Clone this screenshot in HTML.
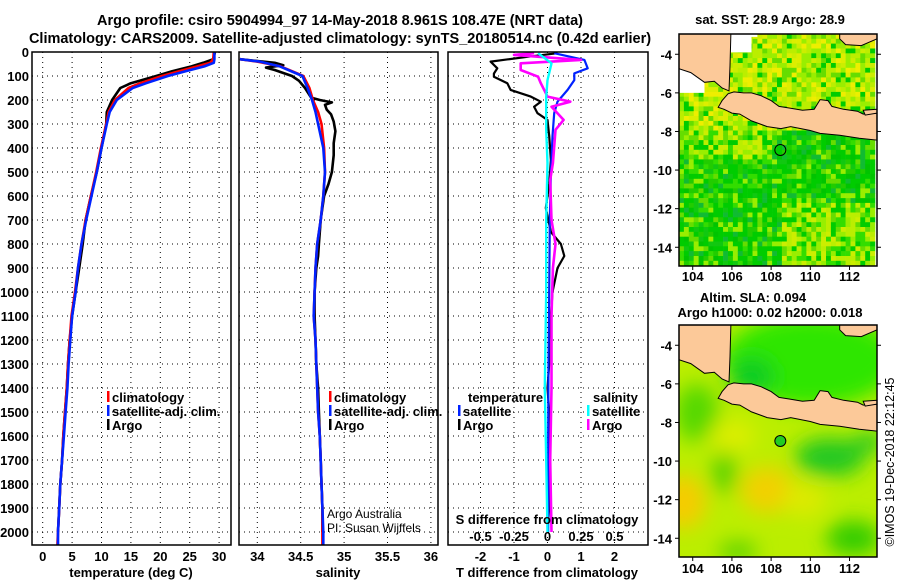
<!DOCTYPE html>
<html><head><meta charset="utf-8">
<style>
html,body{margin:0;padding:0;background:#fff;}
svg{display:block;font-family:"Liberation Sans",Arial,sans-serif;}
.b{font-weight:bold;}
</style></head>
<body>
<svg id="chart" width="900" height="580" viewBox="0 0 900 580" xmlns="http://www.w3.org/2000/svg">
<defs>
<clipPath id="c1"><rect x="32" y="52" width="199" height="493"/></clipPath>
<clipPath id="c2"><rect x="239" y="52" width="199" height="493"/></clipPath>
<clipPath id="c3"><rect x="448" y="52" width="200" height="493"/></clipPath>
<clipPath id="cm1"><rect x="679" y="34" width="198" height="232"/></clipPath>
<clipPath id="cm2"><rect x="679" y="325" width="198" height="232"/></clipPath>
<filter id="blur" x="-20%" y="-20%" width="140%" height="140%"><feGaussianBlur stdDeviation="10"/></filter>
</defs>
<text x="340" y="25" text-anchor="middle" class="b" font-size="14.5">Argo profile: csiro 5904994_97 14-May-2018 8.961S 108.47E (NRT data)</text>
<text x="340" y="43" text-anchor="middle" class="b" font-size="14.5">Climatology: CARS2009. Satellite-adjusted climatology: synTS_20180514.nc (0.42d earlier)</text>
<g id="g"></g>
</svg>
<script>
// ---------- data ----------
const depthTicks=[0,100,200,300,400,500,600,700,800,900,1000,1100,1200,1300,1400,1500,1600,1700,1800,1900,2000];
const tempTicks=[0,5,10,15,20,25,30];
const salTicks=[34,34.5,35,35.5,36];
const tdiffTicks=[-2,-1,0,1,2];
const sdiffTicks=[-0.5,-0.25,0,0.25,0.5];
const lonTicks=[104,106,108,110,112];
const latTicks=[-4,-6,-8,-10,-12,-14];

const tDepth=[0,30,45,60,80,100,130,150,200,250,300,400,500,600,700,800,900,1000,1100,1200,1300,1400,1500,1600,1700,1800,1900,2000,2055];
const tClim=[29.1,29.0,28.5,26.3,23.2,20.3,16.6,14.6,12.3,11.2,10.8,9.9,9.1,8.2,7.3,6.6,6.0,5.5,4.9,4.6,4.3,4.1,3.8,3.5,3.3,3.0,2.8,2.6,2.5];
const tSat=[29.2,29.2,29.1,27.5,24.3,21.3,17.6,15.3,12.6,11.4,10.9,10.0,9.2,8.3,7.4,6.6,6.0,5.6,5.0,4.7,4.4,4.2,3.9,3.6,3.3,3.0,2.8,2.6,2.6];
const tArgoDepth=[0,30,45,60,80,100,130,150,200,250,300,400,500,600,700,800,900,1000,1100,1200,1300,1400,1500,1600,1700,1800,1900,2000];
const tArgo=[29.3,29.0,27.3,25.3,22.0,19.3,15.0,13.2,11.8,10.9,10.8,10.0,9.2,8.2,7.3,6.8,6.2,5.6,5.0,4.6,4.3,4.1,3.8,3.5,3.3,3.0,2.8,2.6];

const sDepth=[30,40,60,100,150,200,250,300,400,500,600,700,800,900,1000,1100,1200,1300,1400,1500,1600,1700,1800,1900,2000,2055];
const sClim=[33.8,34.0,34.27,34.53,34.6,34.64,34.7,34.74,34.77,34.78,34.76,34.73,34.69,34.67,34.66,34.65,34.67,34.68,34.69,34.7,34.72,34.73,34.74,34.75,34.75,34.75];
const sSat=[33.8,34.03,34.26,34.52,34.58,34.63,34.67,34.7,34.76,34.78,34.76,34.73,34.69,34.67,34.66,34.65,34.67,34.68,34.69,34.7,34.72,34.73,34.74,34.75,34.76,34.76];
const sArgoDepth=[30,45,55,65,75,100,120,150,190,200,210,220,240,260,290,330,380,430,500,550,600,700,800,850,900,1000,1100,1200,1300,1400,1500,1600,1700,1800,1900,2000];
const sArgo=[33.8,34.2,34.3,34.1,34.2,34.4,34.48,34.55,34.62,34.72,34.86,34.78,34.8,34.85,34.88,34.9,34.88,34.88,34.86,34.82,34.77,34.73,34.71,34.7,34.68,34.66,34.66,34.67,34.68,34.7,34.71,34.72,34.73,34.74,34.75,34.75];

const dDepth=[5,20,40,68,90,103,130,158,186,207,228,255,283,350,450,550,650,750,800,850,900,1000,1100,1200,1300,1400,1500,1600,1700,1800,1900,1980];
const dTArgo=[0.3,-0.6,-1.7,-1.5,-1.6,-1.6,-1.2,-1.1,-0.5,-0.2,-0.4,-0.3,0.0,0.05,0.1,0.05,-0.05,0.1,0.4,0.5,0.3,0.15,0.1,0.05,0.05,0.0,0.05,0.05,0.03,0.05,0.05,0.0];
const dSDepth=[5,12,33,47,75,103,130,186,207,228,283,324,394,463,533,700,800,900,1100,1400,1700,2000];
const dSArgo=[-0.1,-0.25,0.25,-0.2,-0.2,-0.07,-0.05,0.0,0.17,0.03,0.12,0.06,0.05,0.04,0.02,0.03,0.06,0.04,0.03,0.03,0.02,0.03];
const dTSatDepth=[5,33,68,89,117,158,207,255,350,500,700,1000,1300,1600,2000];
const dTSat=[0.2,1.1,1.2,0.8,0.8,0.6,0.3,0.2,0.15,0.1,0.07,0.05,0.03,0.02,0.02];
const dSSatDepth=[5,47,117,186,324,463,700,1000,1400,1700,2000];
const dSSat=[-0.07,0.03,0.0,-0.01,-0.01,0.0,-0.01,-0.01,-0.02,-0.01,0.0];

const mapLon=[108.47];
const mapLat=[-8.961];

// ---------- helpers ----------
const NS='http://www.w3.org/2000/svg';
const G=document.getElementById('g');
function el(tag,attrs,parent){const e=document.createElementNS(NS,tag);for(const k in attrs)e.setAttribute(k,attrs[k]);(parent||G).appendChild(e);return e;}
const yD=d=>52+d*0.24;
const xT=t=>42.7+t*5.88;
const xS=s=>257.3+(s-34)*86.8;
const xDT=t=>547.5+t*33.5;
const xDS=s=>547.5+s*134;
const mx=lon=>679+(lon-103.3)*19.6;
const my1=lat=>34+(-2.95-lat)*19.3;
const my2=lat=>325+(-2.95-lat)*19.3;

function grid(x0,x1,xs,clip){
  const g=el('g',{'clip-path':'url(#'+clip+')'});
  
  
  depthTicks.forEach(d=>el('line',{x1:x0,x2:x1,y1:yD(d),y2:yD(d),stroke:'#000','stroke-width':1,'stroke-dasharray':'1,4'},g));
  xs.forEach(x=>el('line',{x1:x,x2:x,y1:52,y2:545,stroke:'#000','stroke-width':1,'stroke-dasharray':'1,4'},g));
}
function line(xs,ds,fx,color,clip,name,w){
  const pts=xs.map((v,i)=>fx(v).toFixed(1)+','+yD(ds[i]).toFixed(1)).join(' ');
  const p=el('polyline',{points:pts,fill:'none',stroke:color,'stroke-width':w||2.6,'clip-path':'url(#'+clip+')','stroke-linejoin':'round'});
  
  
}
function frame(x,y,w,h,name){
  const r=el('rect',{x:x,y:y,width:w,height:h,fill:'none',stroke:'#000','stroke-width':1.5});
  
  
}
function txt(x,y,s,attrs,name){
  const t=el('text',Object.assign({x:x,y:y},attrs||{}));
  t.textContent=s;
  
  
  return t;
}

// ---------- depth axis ----------
depthTicks.forEach(d=>{
  txt(29,yD(d)+5,String(d),{'text-anchor':'end','font-size':13,'font-weight':'bold'},'depth-tick-label');
});

// ---------- panel 1 temperature ----------
grid(32,231,tempTicks.map(xT),'c1');
line(tArgo,tArgoDepth,xT,'#000','c1','temperature-argo-line');
line(tClim,tDepth,xT,'#ff0000','c1','temperature-climatology-line');
line(tSat,tDepth,xT,'#0022ff','c1','temperature-satellite-line');
frame(32,52,199,493,'temperature-panel-frame');
tempTicks.forEach(t=>txt(xT(t),561,String(t),{'text-anchor':'middle','font-size':13,'font-weight':'bold'},'temperature-tick-label'));
txt(131,577,'temperature (deg C)',{'text-anchor':'middle','font-size':13,'font-weight':'bold'},'temperature-axis-title');

function legend(x,y,items,name){
  items.forEach((it,i)=>{
    const r=el('rect',{x:x,y:y+i*14-11,width:2.5,height:11,fill:it[1]});
    
    
    txt(x+5,y+i*14,it[0],{'font-size':13,'font-weight':'bold'},name+'-entry');
  });
}
legend(107,402,[['climatology','#ff0000'],['satellite-adj. clim.','#0022ff'],['Argo','#000']],'temperature-legend');

// ---------- panel 2 salinity ----------
grid(239,438,salTicks.map(xS),'c2');
line(sArgo,sArgoDepth,xS,'#000','c2','salinity-argo-line');
line(sClim,sDepth,xS,'#ff0000','c2','salinity-climatology-line');
line(sSat,sDepth,xS,'#0022ff','c2','salinity-satellite-line');
frame(239,52,199,493,'salinity-panel-frame');
salTicks.forEach(s=>txt(xS(s),561,String(s),{'text-anchor':'middle','font-size':13,'font-weight':'bold'},'salinity-tick-label'));
txt(338,577,'salinity',{'text-anchor':'middle','font-size':13,'font-weight':'bold'},'salinity-axis-title');
legend(329,402,[['climatology','#ff0000'],['satellite-adj. clim.','#0022ff'],['Argo','#000']],'salinity-legend');
txt(327,518,'Argo Australia',{'font-size':12},'credit-argo-australia');
txt(327,532,'PI: Susan Wijffels',{'font-size':12},'credit-pi');

// ---------- panel 3 differences ----------
grid(448,648,tdiffTicks.map(xDT),'c3');
line(dTArgo,dDepth,xDT,'#000','c3','tdiff-argo-line',2.2);
line(dTSat,dTSatDepth,xDT,'#0022ff','c3','tdiff-satellite-line',2.2);
line(dSArgo,dSDepth,xDS,'#ff00ff','c3','sdiff-argo-line',2.6);
line(dSSat,dSSatDepth,xDS,'#00ffff','c3','sdiff-satellite-line',2.4);
frame(448,52,200,493,'difference-panel-frame');
tdiffTicks.forEach(t=>txt(xDT(t),561,String(t),{'text-anchor':'middle','font-size':13,'font-weight':'bold'},'tdiff-tick-label'));
sdiffTicks.forEach(s=>txt(xDS(s),541,String(s),{'text-anchor':'middle','font-size':13,'font-weight':'bold'},'sdiff-tick-label'));
txt(547,524,'S difference from climatology',{'text-anchor':'middle','font-size':13,'font-weight':'bold'},'sdiff-axis-title');
txt(547,577,'T difference from climatology',{'text-anchor':'middle','font-size':13,'font-weight':'bold'},'tdiff-axis-title');
txt(468,402,'temperature',{'font-size':13,'font-weight':'bold'},'tdiff-legend-title');
legend(458,416,[['satellite','#0022ff'],['Argo','#000']],'tdiff-legend');
txt(593,402,'salinity',{'font-size':13,'font-weight':'bold'},'sdiff-legend-title');
legend(587,416,[['satellite','#00ffff'],['Argo','#ff00ff']],'sdiff-legend');

// ---------- maps ----------
const java=[[105.8,-6.05],[106.1,-5.95],[106.6,-6.0],[107.0,-6.0],[107.5,-6.15],[108.0,-6.4],[108.4,-6.7],[109.0,-6.8],[109.6,-6.9],[110.2,-6.85],[110.5,-6.35],[110.9,-6.4],[111.1,-6.7],[111.7,-6.85],[112.4,-6.95],[112.7,-7.1],[113.4,-7.05],[113.4,-8.45],[112.5,-8.35],[111.5,-8.2],[110.5,-8.1],[110,-7.95],[109,-7.75],[108.5,-7.85],[107.8,-7.75],[107,-7.45],[106.4,-7.1],[106,-7.05],[105.6,-6.85],[105.3,-6.75],[105.5,-6.4]];
const madura=[[112.7,-6.9],[113.4,-6.85],[113.4,-7.05],[112.8,-7.15]];
const sumatra=[[103.3,-2.9],[105.95,-2.9],[105.9,-4.6],[105.85,-5.9],[105.5,-5.75],[105.1,-5.4],[104.6,-5.45],[103.9,-4.95],[103.3,-4.75]];
const borneo=[[111.5,-2.9],[113.4,-2.9],[113.4,-3.2],[112.6,-3.55],[111.8,-3.5],[111.5,-3.2]];
function poly(pts,my,g,name){
  const p=el('polygon',{points:pts.map(q=>mx(q[0]).toFixed(1)+','+my(q[1]).toFixed(1)).join(' '),fill:'#fcc999',stroke:'#000','stroke-width':1},g);
  
  
}
function hash(i,j){let h=(i*374761393+j*668265263)>>>0;h=((h^(h>>>13))*1274126177)>>>0;return ((h^(h>>>16))>>>0)/4294967296;}

// SST map
const m1=el('g',{'clip-path':'url(#cm1)'});


const north=['#ccee00','#99ee00','#ddee00','#eeee00','#66dd00','#00cc00','#bbee00','#99ee00'];
const south=['#00cc00','#11c811','#22cc00','#33dd00','#00cc00','#66dd00','#00c400','#99ee00','#11bb33','#00cc00'];
const sw=['#99ee00','#ccee00','#66dd00','#00cc00','#bbee00','#33dd00'];
for(let i=0;i<40;i++){for(let j=0;j<48;j++){
  const lon=103.3+i*0.25,lat=-2.95-j*0.25;
  const r=hash(i,j);let pal;
  if(lat>-7.8) pal=north;
  else if(lat>-9.3&&lon<108) pal=sw;
  else if(lat<-11.5&&lon>108.5) pal=sw;
  else pal=south;
  el('rect',{x:mx(lon).toFixed(1),y:my1(lat).toFixed(1),width:5.2,height:5.2,fill:pal[Math.floor(r*pal.length)]},m1);
}}
[[103.3,-4.7,104.6,-6.0],[105.95,-2.9,107.0,-3.9],[106.5,-2.9,107.3,-3.1]].forEach(b=>el('rect',{x:mx(b[0]),y:my1(b[1]),width:mx(b[2])-mx(b[0]),height:my1(b[3])-my1(b[1]),fill:'#fff'},m1));
poly(sumatra,my1,m1,'sst-land-sumatra');poly(java,my1,m1,'sst-land-java');poly(madura,my1,m1,'sst-land-madura');poly(borneo,my1,m1,'sst-land-borneo');
el('circle',{cx:mx(mapLon[0]),cy:my1(mapLat[0]),r:5.5,fill:'none',stroke:'#000','stroke-width':1},m1);
frame(679,34,198,232,'sst-map-frame');

// SLA map
const m2=el('g',{'clip-path':'url(#cm2)'});


el('rect',{x:679,y:325,width:198,height:232,fill:'#bbee00'},m2);
const bl=el('g',{filter:'url(#blur)'},m2);
[[110,-4.8,4.5,2.4,'#2ee600'],[107,-5.6,1.2,1,'#11cc22'],[104.2,-7.5,1.1,1.5,'#55d800'],[103.5,-12.1,1.2,1.4,'#f5cc00'],[107.8,-11.5,1.4,1.2,'#f2d000'],[106,-8.7,1.2,0.8,'#ddee00'],[109.7,-12,1.1,0.9,'#ddea00'],[111,-9.8,1.8,1.0,'#22c822'],[105.6,-10.6,0.6,1.1,'#55d000'],[112.2,-14,1.4,0.9,'#33cc00'],[106.3,-14.7,1.0,0.5,'#55d000'],[113,-9,0.8,0.5,'#22c822']].forEach(b=>{
  el('ellipse',{cx:mx(b[0]),cy:my2(b[1]),rx:b[2]*19.6,ry:b[3]*19.3,fill:b[4]},bl);
});
poly(sumatra,my2,m2,'sla-land-sumatra');poly(java,my2,m2,'sla-land-java');poly(madura,my2,m2,'sla-land-madura');poly(borneo,my2,m2,'sla-land-borneo');
el('circle',{cx:mx(mapLon[0]),cy:my2(mapLat[0]),r:5.5,fill:'#22cc22',stroke:'#000','stroke-width':1},m2);
frame(679,325,198,232,'sla-map-frame');

[[my1,266,281,'sst'],[my2,557,573,'sla']].forEach(m=>{
  lonTicks.forEach(l=>{
    el('line',{x1:mx(l),x2:mx(l),y1:m[1],y2:m[1]+4,stroke:'#000'});
    txt(mx(l),m[2],String(l),{'text-anchor':'middle','font-size':13,'font-weight':'bold'},m[3]+'-lon-tick-label');
  });
  latTicks.forEach(l=>{
    el('line',{x1:675,x2:679,y1:m[0](l),y2:m[0](l),stroke:'#000'});
    el('line',{x1:877,x2:881,y1:m[0](l),y2:m[0](l),stroke:'#000'});
    txt(672,m[0](l)+5,String(l),{'text-anchor':'end','font-size':13,'font-weight':'bold'},m[3]+'-lat-tick-label');
  });
});
txt(770,24,'sat. SST: 28.9 Argo: 28.9',{'text-anchor':'middle','font-size':13,'font-weight':'bold'},'sst-map-title');
txt(753,302,'Altim. SLA: 0.094',{'text-anchor':'middle','font-size':13,'font-weight':'bold'},'sla-map-title');
txt(770,317,'Argo h1000: 0.02 h2000: 0.018',{'text-anchor':'middle','font-size':13,'font-weight':'bold'},'sla-map-subtitle');
txt(0,0,'©IMOS 19-Dec-2018 22:12:45',{'text-anchor':'middle','font-size':12.5,transform:'translate(894,462) rotate(-90)'},'imos-timestamp');
</script>
</body></html>
